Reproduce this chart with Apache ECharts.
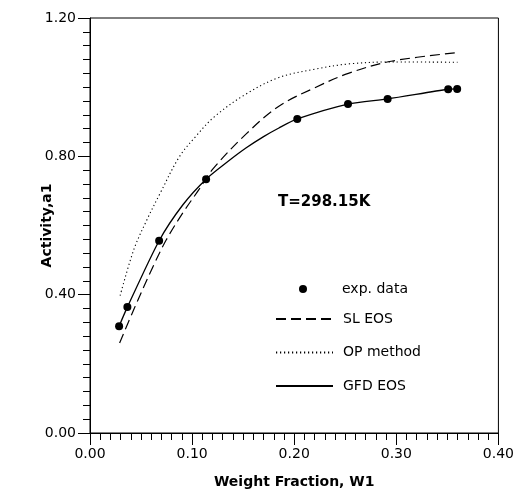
<!DOCTYPE html>
<html><head><meta charset="utf-8">
<script src="https://cdn.jsdelivr.net/npm/echarts@6/dist/echarts.min.js"></script>
<style>html,body{margin:0;padding:0;background:#fff}#c{width:517px;height:494px}</style>
</head><body><div id="c"></div>
<script>
// Experimental data
const expW = [0.0285, 0.0366, 0.0677, 0.1137, 0.203, 0.2527, 0.2915, 0.3508, 0.3596];
const expA = [0.309, 0.364, 0.556, 0.734, 0.908, 0.951, 0.966, 0.994, 0.995];
// SL EOS (dashed)
const slW = [0.029, 0.043, 0.062, 0.075, 0.091, 0.107, 0.12, 0.153, 0.185, 0.22, 0.253, 0.295, 0.36];
const slA = [0.26, 0.358, 0.483, 0.56, 0.637, 0.705, 0.762, 0.865, 0.945, 0.998, 1.040, 1.075, 1.100];
// OP method (dotted)
const opW = [0.0295, 0.043, 0.056, 0.069, 0.0878, 0.104, 0.122, 0.1527, 0.185, 0.2203, 0.2527, 0.295, 0.36];
const opA = [0.397, 0.531, 0.618, 0.695, 0.80, 0.859, 0.915, 0.980, 1.028, 1.052, 1.067, 1.073, 1.072];
// GFD EOS (solid)
const gfdW = [0.0285, 0.0366, 0.0677, 0.091, 0.1137, 0.135, 0.1527, 0.17, 0.185, 0.203, 0.2527, 0.2915, 0.3508, 0.3596];
const gfdA = [0.309, 0.364, 0.556, 0.660, 0.734, 0.785, 0.824, 0.857, 0.882, 0.908, 0.951, 0.966, 0.994, 0.995];

const names = ['exp. data', 'SL EOS', 'OP method', 'GFD EOS'];
const label = 'T=298.15K';
const zip = (a, b) => a.map((v, i) => [v, b[i]]);
const FONT = 'DejaVu Sans';

const chart = echarts.init(document.getElementById('c'), null, {renderer: 'canvas'});
chart.setOption({
  animation: false,
  backgroundColor: '#fff',
  grid: {left: 90, right: 15.5, top: 18, bottom: 60, show: true, borderColor: '#000', borderWidth: 1},
  xAxis: {
    type: 'value', min: 0, max: 0.4, interval: 0.1,
    name: 'Weight Fraction, W1', nameLocation: 'middle', nameGap: 42, nameMoveOverlap: false,
    nameTextStyle: {fontFamily: FONT, fontWeight: 'bold', fontSize: 14, color: '#000'},
    axisLine: {lineStyle: {color: '#000', width: 1}},
    axisTick: {length: 12, lineStyle: {color: '#000'}},
    minorTick: {show: true, splitNumber: 10, length: 7, lineStyle: {color: '#000'}},
    splitLine: {show: false},
    axisLabel: {fontFamily: FONT, fontSize: 14, color: '#000', margin: 14, formatter: v => v.toFixed(2)}
  },
  yAxis: {
    type: 'value', min: 0, max: 1.2, interval: 0.4,
    name: 'Activity,a1', nameLocation: 'middle', nameGap: 36, nameRotate: 90, nameMoveOverlap: false,
    nameTextStyle: {fontFamily: FONT, fontWeight: 'bold', fontSize: 14, color: '#000'},
    axisLine: {lineStyle: {color: '#000', width: 1}},
    axisTick: {length: 12, lineStyle: {color: '#000'}},
    minorTick: {show: true, splitNumber: 10, length: 7, lineStyle: {color: '#000'}},
    splitLine: {show: false},
    axisLabel: {fontFamily: FONT, fontSize: 14, color: '#000', margin: 14, formatter: v => v.toFixed(2)}
  },
  legend: [
    {
      data: [names[0]], orient: 'vertical', left: 299, top: 282, padding: 0,
      itemWidth: 8, itemHeight: 8, icon: 'circle',
      itemStyle: {color: '#000', opacity: 1},
      textStyle: {fontFamily: FONT, fontSize: 14, color: '#000', padding: [0, 0, 0, 30]}
    },
    {
      data: names.slice(1), orient: 'vertical', left: 275, top: 312, padding: 0,
      itemWidth: 57, itemHeight: 14, itemGap: 19.5,
      itemStyle: {color: 'transparent', borderWidth: 0, opacity: 0},
      textStyle: {fontFamily: FONT, fontSize: 14, color: '#000', padding: [0, 0, 0, 5]}
    }
  ],
  graphic: [{
    type: 'text', left: 278, top: 195,
    style: {text: label, font: 'bold 15px "DejaVu Sans"', fill: '#000'}
  }],
  series: [
    {
      name: names[0], type: 'scatter', data: zip(expW, expA), symbol: 'circle', symbolSize: 8,
      itemStyle: {color: '#000', opacity: 1}, z: 5
    },
    {
      name: names[1], type: 'line', data: zip(slW, slA), symbol: 'none', smooth: 0.35,
      lineStyle: {color: '#000', width: 1.2, type: [10, 5]}, itemStyle: {color: '#000'}
    },
    {
      name: names[2], type: 'line', data: zip(opW, opA), symbol: 'none', smooth: 0.35,
      lineStyle: {color: '#000', width: 1.1, type: [1.2, 2.8]}, itemStyle: {color: '#000'}
    },
    {
      name: names[3], type: 'line', data: zip(gfdW, gfdA), symbol: 'none', smooth: 0.25,
      lineStyle: {color: '#000', width: 1.3}, itemStyle: {color: '#000'}
    }
  ]
});
</script>
</body></html>
